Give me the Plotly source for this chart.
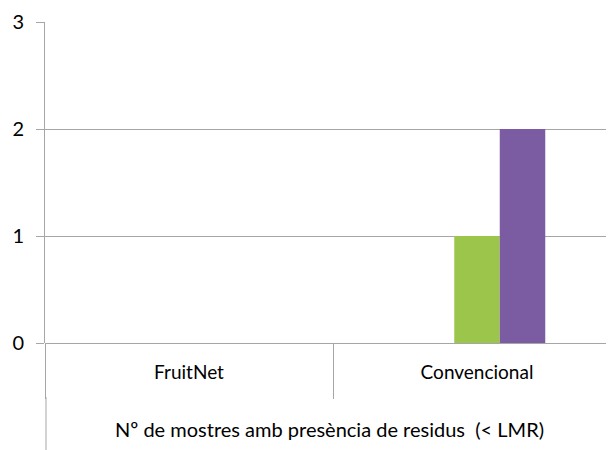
import plotly.graph_objects as go

categories = ["FruitNet", "Convencional"]
serie1 = [0, 0]
serie2 = [0, 1]
serie3 = [0, 2]
y_ticks = [0, 1, 2, 3]
x_title = "Nº de mostres amb presència de residus  (< LMR)"

font = "Lato, Calibri, Carlito, sans-serif"

fig = go.Figure()
fig.add_trace(go.Bar(x=categories, y=serie1, name="Sèrie 1",
                     marker=dict(color="#4F81BD", line=dict(width=0))))
fig.add_trace(go.Bar(x=categories, y=serie2, name="Sèrie 2",
                     marker=dict(color="#9cc64b", line=dict(width=0))))
fig.add_trace(go.Bar(x=categories, y=serie3, name="Sèrie 3",
                     marker=dict(color="#7b5ba1", line=dict(width=0))))

# page body has an 8px margin; compensate so the plot lands where the reference has it
off = 8
plot_w = 614 - 45
cat_px = 288.0
fig.update_layout(
    width=614, height=450,
    margin=dict(l=45 - off, r=off, t=22 - off, b=107 + off, autoexpand=False),
    paper_bgcolor="white", plot_bgcolor="white",
    barmode="group", bargap=0.526, bargroupgap=0,
    showlegend=False,
    font=dict(family=font, size=19, color="#000000"),
    xaxis=dict(
        type="category", range=[-0.5, -0.5 + plot_w / cat_px],
        showgrid=False, showline=False,
        ticks="outside", tickson="boundaries", ticklen=55, tickcolor="#a6a6a6", tickwidth=1,
        tickfont=dict(size=19), ticklabelstandoff=16,
        title=dict(text=x_title, font=dict(size=20), standoff=40),
    ),
    yaxis=dict(
        range=[0, 3], tickvals=y_ticks, ticktext=[str(v) for v in y_ticks],
        showgrid=True, gridcolor="#a6a6a6", gridwidth=1,
        zeroline=True, zerolinecolor="#a6a6a6", zerolinewidth=1,
        showline=True, linecolor="#a6a6a6", linewidth=1,
        ticks="outside", ticklen=8, tickcolor="#a6a6a6",
        tickfont=dict(size=20), ticklabelstandoff=8,
    ),
)

# extend the vertical axis line down through the category label area
fig.add_shape(type="line", xref="paper", yref="paper",
              x0=1 / plot_w, x1=1 / plot_w, y0=-54 / 321, y1=-115 / 321,
              line=dict(color="#a6a6a6", width=1))

fig.write_html("out.html")
